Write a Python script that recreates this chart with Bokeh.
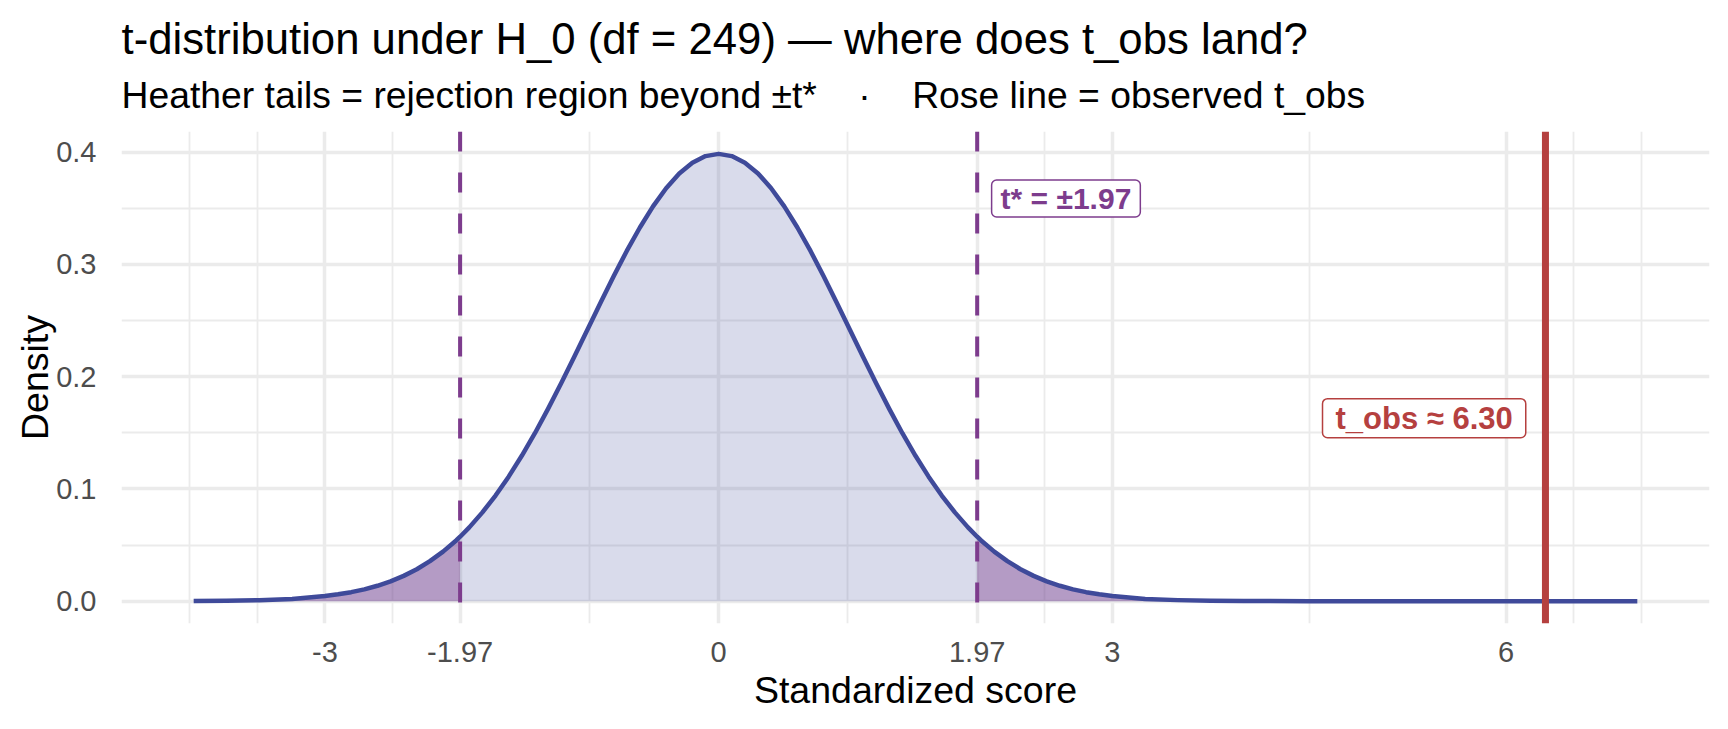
import numpy as np
from bokeh.plotting import figure
from bokeh.models import Range1d, FixedTicker, Span, Label, Title
from bokeh.embed import file_html
from bokeh.resources import INLINE

# t density under H_0 (df = 249)
t_x = [-4.0, -3.75, -3.5, -3.25, -3.0, -2.9, -2.8, -2.7, -2.6, -2.5, -2.4, -2.3,
       -2.2, -2.1, -2.0, -1.97, -1.9, -1.8, -1.7, -1.6, -1.5, -1.4, -1.3, -1.2,
       -1.1, -1.0, -0.9, -0.8, -0.7, -0.6, -0.5, -0.4, -0.3, -0.2, -0.1, 0.0,
       0.1, 0.2, 0.3, 0.4, 0.5, 0.6, 0.7, 0.8, 0.9, 1.0, 1.1, 1.2, 1.3, 1.4,
       1.5, 1.6, 1.7, 1.8, 1.9, 1.97, 2.0, 2.1, 2.2, 2.3, 2.4, 2.5, 2.6, 2.7,
       2.8, 2.9, 3.0, 3.25, 3.5, 3.75, 4.0, 4.5, 5.0, 5.5, 6.0, 6.5, 7.0]
t_dens = [0.0001, 0.0004, 0.0009, 0.0020, 0.0045, 0.0061, 0.0080, 0.0105, 0.0137,
          0.0176, 0.0225, 0.0284, 0.0356, 0.0441, 0.0541, 0.0574, 0.0657, 0.0791,
          0.0941, 0.1109, 0.1295, 0.1496, 0.1713, 0.1941, 0.2177, 0.2418, 0.2659,
          0.2895, 0.3120, 0.3329, 0.3517, 0.3679, 0.3810, 0.3906, 0.3965, 0.3985,
          0.3965, 0.3906, 0.3810, 0.3679, 0.3517, 0.3329, 0.3120, 0.2895, 0.2659,
          0.2418, 0.2177, 0.1941, 0.1713, 0.1496, 0.1295, 0.1109, 0.0941, 0.0791,
          0.0657, 0.0574, 0.0541, 0.0441, 0.0356, 0.0284, 0.0225, 0.0176, 0.0137,
          0.0105, 0.0080, 0.0061, 0.0045, 0.0020, 0.0009, 0.0004, 0.0001, 0.0000,
          0.0000, 0.0000, 0.0000, 0.0000, 0.0000]

t_crit = 1.97
t_obs = 6.30

x_tick_vals = [-3, -1.97, 0, 1.97, 3, 6]
x_tick_labels = ["-3", "-1.97", "0", "1.97", "3", "6"]
x_minor_vals = [-4.03, -3.515, -2.485, -0.985, 0.985, 2.485, 4.5, 6.515, 7.03]
y_tick_vals = [0.0, 0.1, 0.2, 0.3, 0.4]
y_tick_labels = ["0.0", "0.1", "0.2", "0.3", "0.4"]
y_minor_vals = [0.05, 0.15, 0.25, 0.35]

NAVY = "#3F4A9A"
HEATHER = "#7D3C8D"
ROSE = "#B5403F"
GRID = "#EBEBEB"
FONT = "Liberation Sans"

x = np.array(t_x)
d = np.array(t_dens)

# ggplot-like 5% expansion
xpad = 0.05 * (x.max() - x.min())
ypad = 0.05 * (d.max() - d.min())

p = figure(width=1712, height=713, title=None, output_backend="svg",
           toolbar_location=None,
           x_range=Range1d(x.min() - xpad, x.max() + xpad),
           y_range=Range1d(d.min() - ypad, d.max() + ypad))
p.min_border_left = 121
p.min_border_right = 3
p.min_border_top = 131
p.min_border_bottom = 90
p.outline_line_color = None
p.background_fill_color = "white"
p.border_fill_color = "white"

p.add_layout(Title(text="Heather tails = rejection region beyond \u00b1t*\u00a0\u00a0\u00a0\u00a0\u00b7\u00a0\u00a0\u00a0\u00a0Rose line = observed t_obs",
                   text_font=FONT, text_font_size="37.3px", text_font_style="normal",
                   text_color="black", align="left", standoff=31, offset=0), "above")
p.add_layout(Title(text="t-distribution under H_0 (df = 249) \u2014 where does t_obs land?",
                   text_font=FONT, text_font_size="43.7px", text_font_style="normal",
                   text_color="black", align="left", standoff=-12, offset=0), "above")

# whole curve, lightly filled
p.varea(x=x, y1=0, y2=d, fill_color=NAVY, fill_alpha=0.2)
# rejection tails
left = x <= -t_crit
right = x >= t_crit
p.varea(x=x[left], y1=0, y2=d[left], fill_color=HEATHER, fill_alpha=0.4)
p.varea(x=x[right], y1=0, y2=d[right], fill_color=HEATHER, fill_alpha=0.4)
p.line(x, d, line_color=NAVY, line_width=4.5, line_join="round")

for v in (-t_crit, t_crit):
    p.add_layout(Span(location=v, dimension="height", line_color=HEATHER,
                      line_width=4, line_dash="20 21"))
p.add_layout(Span(location=t_obs, dimension="height", line_color=ROSE, line_width=7))

p.add_layout(Label(x=t_crit + 0.11, y=0.3587, text="t* = \u00b1%.2f" % t_crit,
                   text_align="left", text_baseline="middle",
                   text_font=FONT, text_font_size="30px", text_font_style="bold",
                   text_color=HEATHER, background_fill_color="white",
                   border_line_color=HEATHER, border_line_width=1.5,
                   border_radius=5, padding=(9, 2)))
p.add_layout(Label(x=t_obs - 0.15, y=0.163, text="t_obs \u2248 %.2f" % t_obs,
                   text_align="right", text_baseline="middle",
                   text_font=FONT, text_font_size="31px", text_font_style="bold",
                   text_color=ROSE, background_fill_color="white",
                   border_line_color=ROSE, border_line_width=1.5,
                   border_radius=5, padding=(13, 2)))

# axes
p.xaxis.ticker = FixedTicker(ticks=x_tick_vals, minor_ticks=x_minor_vals)
p.xaxis.major_label_overrides = dict(zip(x_tick_vals, x_tick_labels))
p.yaxis.ticker = FixedTicker(ticks=y_tick_vals, minor_ticks=y_minor_vals)
p.yaxis.major_label_overrides = dict(zip(y_tick_vals, y_tick_labels))
p.xaxis.axis_label = "Standardized score"
p.yaxis.axis_label = "Density"
for ax in (p.xaxis, p.yaxis):
    ax.axis_line_color = None
    ax.major_tick_line_color = None
    ax.minor_tick_line_color = None
    ax.major_label_text_font = FONT
    ax.major_label_text_font_size = "29px"
    ax.major_label_text_color = "#4D4D4D"
    ax.axis_label_text_font = FONT
    ax.axis_label_text_font_size = "37.5px"
    ax.axis_label_text_font_style = "normal"
    ax.axis_label_text_color = "black"
p.xaxis.major_label_standoff = 12
p.xaxis.axis_label_standoff = 4
p.yaxis.major_label_standoff = 19
p.yaxis.axis_label_standoff = -3

for g in (p.xgrid, p.ygrid):
    g.grid_line_color = GRID
    g.grid_line_width = 3.5
    g.minor_grid_line_color = GRID
    g.minor_grid_line_width = 1.8

open("out.html", "w").write(file_html(p, INLINE))
